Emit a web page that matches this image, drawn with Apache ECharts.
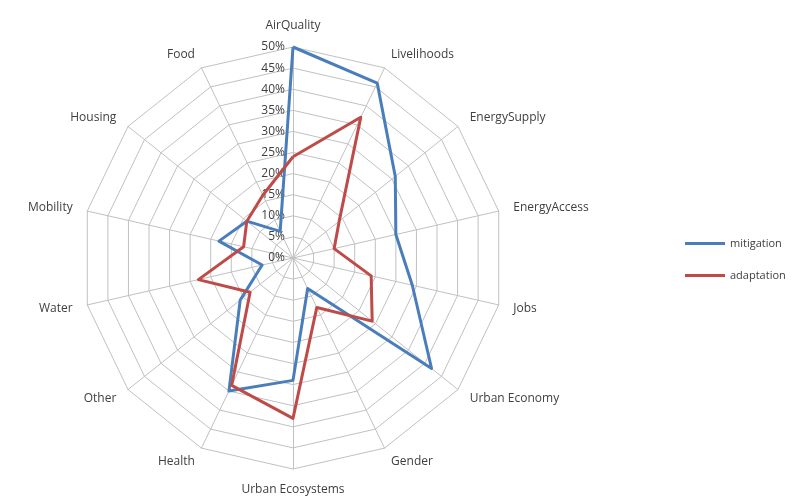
<!DOCTYPE html>
<html>
<head>
<meta charset="utf-8">
<script src="https://cdn.jsdelivr.net/npm/echarts@6/dist/echarts.min.js"></script>
<style>
  html, body { margin: 0; padding: 0; background: #fff; }
  #chart { width: 811px; height: 498px; }
</style>
</head>
<body>
<div id="chart"></div>
<script>
    // categories in clockwise order starting at the top
    var categories = ['AirQuality', 'Livelihoods', 'EnergySupply', 'EnergyAccess', 'Jobs', 'Urban Economy',
        'Gender', 'Urban Ecosystems', 'Health', 'Other', 'Water', 'Mobility', 'Housing', 'Food'];
    var mitigation = [50, 46, 31, 25, 29, 42, 8, 29, 35, 16, 7.5, 18, 14, 7];
    var adaptation = [24, 37, 14, 10, 19, 24, 13, 38, 33.5, 13, 23, 12, 14, 16.5];
    var axisMax = 50;
    var axisStep = 5;

    // echarts lays radar indicators out counter-clockwise, so reverse after the first one
    var order = [0];
    for (var i = categories.length - 1; i > 0; i--) {
        order.push(i);
    }
    function reorder(arr) {
        return order.map(function (k) { return arr[k]; });
    }

    var gridColor = '#c0c0c0';
    var textColor = '#404040';
    var font = 'Open Sans';

    var myChart = echarts.init(document.getElementById('chart'));
    var option = {
        animation: false,
        legend: {
            orient: 'vertical',
            left: 680,
            top: 233,
            itemGap: 21,
            icon: 'rect',
            itemWidth: 40,
            itemHeight: 3,
            textStyle: { color: textColor, fontFamily: font, fontSize: 11 },
            data: ['mitigation', 'adaptation']
        },
        radar: {
            center: [293, 258],
            radius: 211,
            startAngle: 90,
            shape: 'polygon',
            splitNumber: axisMax / axisStep,
            indicator: reorder(categories).map(function (name) {
                return { name: name, min: 0, max: axisMax };
            }),
            axisName: { color: textColor, fontFamily: font, fontSize: 12 },
            nameGap: 15,
            axisLine: { lineStyle: { color: gridColor, width: 1 } },
            splitLine: { lineStyle: { color: gridColor, width: 1 } },
            splitArea: { show: false },
            axisLabel: { show: false }
        },
        polar: {
            center: [293, 258],
            radius: 211
        },
        angleAxis: {
            show: false,
            startAngle: 90,
            min: 0,
            max: 360
        },
        radiusAxis: {
            min: 0,
            max: axisMax,
            interval: axisStep,
            axisLine: { show: false },
            axisTick: { show: false },
            splitLine: { show: false },
            axisLabel: {
                color: textColor,
                fontFamily: font,
                fontSize: 12,
                formatter: '{value}%'
            }
        },
        series: [{
            name: 'mitigation',
            type: 'radar',
            symbol: 'none',
            lineStyle: { width: 3, color: '#4a7ebb' },
            itemStyle: { color: '#4a7ebb' },
            data: [{ value: reorder(mitigation), name: 'mitigation' }]
        }, {
            name: 'adaptation',
            type: 'radar',
            symbol: 'none',
            lineStyle: { width: 3, color: '#be4b48' },
            itemStyle: { color: '#be4b48' },
            data: [{ value: reorder(adaptation), name: 'adaptation' }]
        }]
    };
    myChart.setOption(option);
</script>
</body>
</html>
